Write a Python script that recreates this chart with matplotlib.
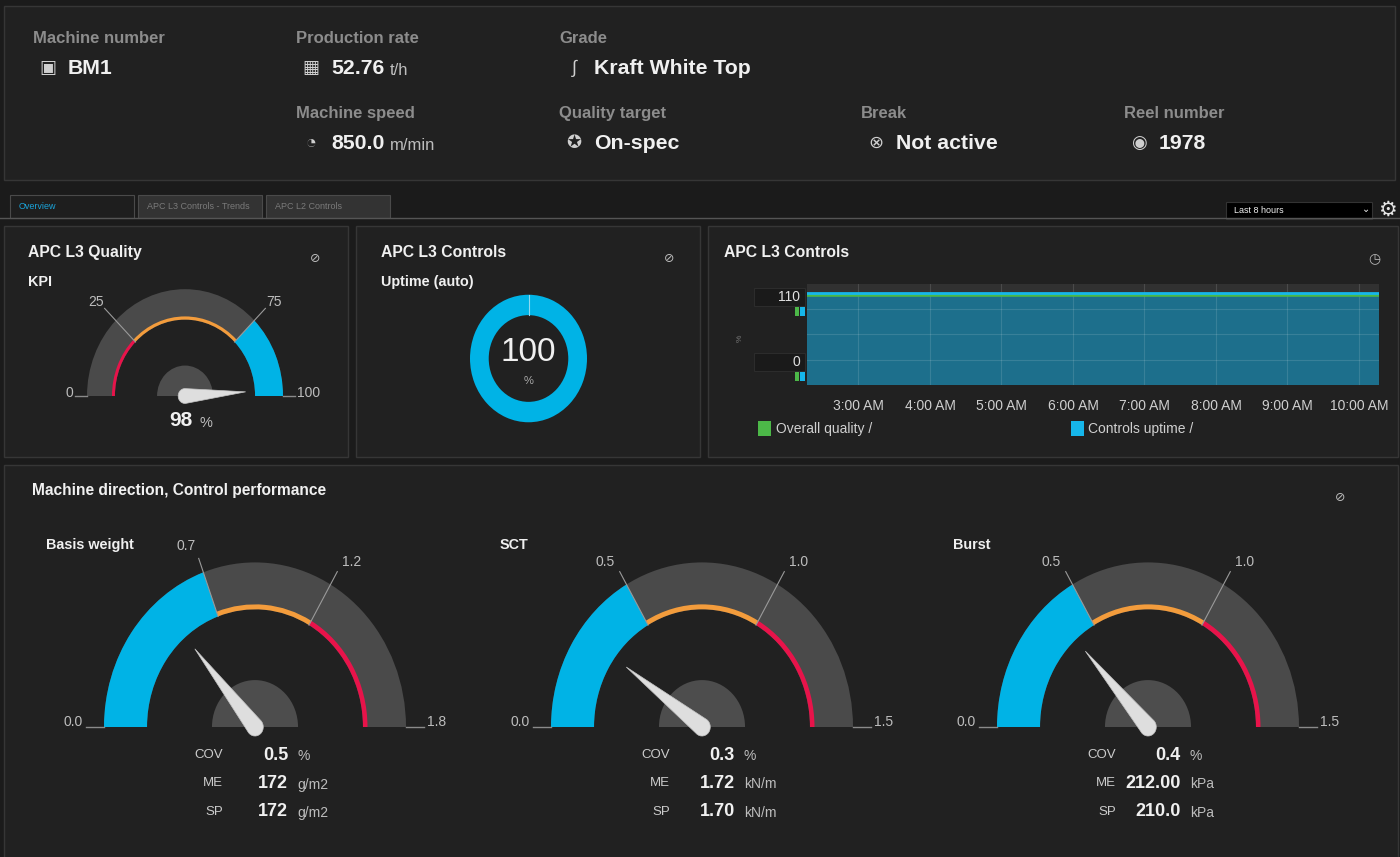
import matplotlib
matplotlib.use('Agg')
import matplotlib.pyplot as plt
from matplotlib.patches import Rectangle, Wedge, Polygon
import numpy as np

plt.rcParams['font.family'] = ['Liberation Sans', 'DejaVu Sans']

W, H = 1400, 857
SQUASH = 1.09   # the screenshot is a little taller than wide

BG = '#1b1b1b'
PANEL = '#212121'
EDGE = '#363636'
BAND = '#4a4a4a'
BLUE = '#00b3e6'
ORANGE = '#f39c3c'
RED = '#e8134a'
GREEN = '#4cb848'
LABEL = '#8c8c8c'
WHITE = '#f0f0f0'

# header fields
hdr_labels = ['Machine number', 'Production rate', 'Grade', 'Machine speed',
              'Quality target', 'Break', 'Reel number']
hdr_values = ['BM1', '52.76', 'Kraft White Top', '850.0', 'On-spec', 'Not active', '1978']
hdr_units = ['', 't/h', '', 'm/min', '', '', '']
hdr_icons = ['▣', '▦', '∫', '◔', '✪', '⊗', '◉']
hdr_x = [33, 296, 559, 296, 559, 861, 1124]
hdr_row = [0, 0, 0, 1, 1, 1, 1]

tabs = ['Overview', 'APC L3 Controls - Trends', 'APC L2 Controls']
time_window = 'Last 8 hours'

# KPI gauge
kpi_value = 98
kpi_min, kpi_max = 0, 100
kpi_limits = [25, 75]

# uptime donut
uptime_value = 100

# trend
trend_hours = [2.28, 3, 4, 5, 6, 7, 8, 9, 10, 10.28]
overall_quality = [98, 98, 98, 98, 98, 98, 98, 98, 98, 98]
controls_uptime = [100, 100, 100, 100, 100, 100, 100, 100, 100, 100]
hour_ticks = [3, 4, 5, 6, 7, 8, 9, 10]
hour_labels = ['3:00 AM', '4:00 AM', '5:00 AM', '6:00 AM', '7:00 AM',
               '8:00 AM', '9:00 AM', '10:00 AM']
trend_ymin, trend_ymax = 0, 110

# machine direction gauges
md_names = ['Basis weight', 'SCT', 'Burst']
md_max = [1.8, 1.5, 1.5]
md_low = [0.7, 0.5, 0.5]
md_high = [1.2, 1.0, 1.0]
md_cov = [0.5, 0.3, 0.4]
md_me = ['172', '1.72', '212.00']
md_sp = ['172', '1.70', '210.0']
md_units = ['g/m2', 'kN/m', 'kPa']

fig = plt.figure(figsize=(14, 8.57), dpi=100, facecolor=BG)
bg = fig.add_axes([0, 0, 1, 1])
bg.set_xlim(0, W)
bg.set_ylim(H, 0)
bg.axis('off')


def txt(x, y, s, size, color=WHITE, weight='normal', ha='left', **kw):
    return bg.text(x, y, s, fontsize=size, color=color, fontweight=weight,
                   ha=ha, va='center', **kw)


def unit_after(t, s, size, color='#bdbdbd', gap=4):
    bg.annotate(s, xy=(1, 0), xycoords=t, xytext=(gap, 0), textcoords='offset points',
                fontsize=size, color=color, ha='left', va='bottom')


def panel(x0, y0, x1, y1):
    bg.add_patch(Rectangle((x0, y0), x1 - x0, y1 - y0, facecolor=PANEL,
                           edgecolor=EDGE, lw=1))


def inset(cx, cy, r, x0, x1, y0, y1):
    left, right = cx + x0 * r, cx + x1 * r
    top, bottom = cy - y1 * r * SQUASH, cy - y0 * r * SQUASH
    ax = fig.add_axes([left / W, 1 - bottom / H, (right - left) / W, (bottom - top) / H])
    ax.set_xlim(x0, x1)
    ax.set_ylim(y0, y1)
    ax.axis('off')
    return ax


def needle(ax, ang, length, half):
    a = np.radians(ang)
    cap = np.linspace(a + np.pi / 2, a + 3 * np.pi / 2, 14)
    pts = [(length * np.cos(a), length * np.sin(a))] + list(zip(half * np.cos(cap), half * np.sin(cap)))
    ax.add_patch(Polygon(pts, closed=True, facecolor='#dedede', edgecolor='#c4c4c4',
                         lw=0.5, zorder=6))


def gauge(cx, cy, r, vmin, vmax, value, zones, ticks, fmt, lab_r, lab_shift, half):
    ax = inset(cx, cy, r, -1.45, 1.45, -0.3, 1.4)
    rin = 0.715
    ang = lambda v: 180 - 180 * (v - vmin) / (vmax - vmin)
    ax.add_patch(Wedge((0, 0), 1, 0, 180, width=1 - rin, color=BAND, lw=0))
    for lo, hi, col, full in zones:
        if full:
            ax.add_patch(Wedge((0, 0), 1, ang(hi), ang(lo), width=1 - rin, color=col, lw=0))
        else:
            ax.add_patch(Wedge((0, 0), rin + 0.03, ang(hi), ang(lo), width=0.03, color=col, lw=0))
    for t in ticks:
        d = ang(t)
        a = np.radians(d)
        ax.plot([rin * np.cos(a), (lab_r - 0.1) * np.cos(a)],
                [rin * np.sin(a), (lab_r - 0.1) * np.sin(a)], color='#9a9a9a', lw=0.8)
        b = np.radians(d + lab_shift if d > 90 else d - lab_shift)
        ax.text(lab_r * np.cos(b), lab_r * np.sin(b), fmt.format(t), ha='center',
                va='center', fontsize=10, color='#bdbdbd')
    ax.plot([-1.12, -1.0], [0, 0], color='#8a8a8a', lw=1)
    ax.plot([1.0, 1.12], [0, 0], color='#8a8a8a', lw=1)
    ax.text(-1.14, 0.03, fmt.format(vmin), ha='right', va='center', fontsize=10, color='#bdbdbd')
    ax.text(1.14, 0.03, fmt.format(vmax), ha='left', va='center', fontsize=10, color='#bdbdbd')
    ax.add_patch(Wedge((0, 0), 0.285, 0, 180, color='#4d4d4d', lw=0))
    needle(ax, ang(value), 0.62, half)
    return ax


# ---- header ----
panel(4, 6, 1395, 180)
for lab, val, unit, icon, x, row in zip(hdr_labels, hdr_values, hdr_units, hdr_icons, hdr_x, hdr_row):
    y = 38 + 75 * row
    txt(x, y, lab, 12, LABEL, 'bold')
    txt(x + 15, y + 30, icon, 13, '#cfcfcf', ha='center')
    t = txt(x + 35, y + 30, val, 15.3, WHITE, 'bold')
    if unit:
        unit_after(t, unit, 12)

# ---- tabs ----
bg.plot([0, W], [217.5, 217.5], color='#555555', lw=1)
for i, name in enumerate(tabs):
    x0 = 10 + 128 * i
    active = i == 0
    bg.add_patch(Rectangle((x0, 195), 124, 23, facecolor='#1e1e1e' if active else '#333333',
                           edgecolor='#4a4a4a', lw=0.8))
    txt(x0 + 9, 206, name, 6.5, '#1aa3d9' if active else '#7a7a7a')
bg.add_patch(Rectangle((1226, 202), 146, 17, facecolor='#000000', edgecolor='#333333', lw=0.8))
txt(1234, 210.5, time_window, 6.5, WHITE)
txt(1366, 209, '⌄', 7, WHITE, ha='center')
txt(1387, 210, '⚙', 15, '#e6e6e6', ha='center')

# ---- panels ----
panel(4, 226, 348, 457)
panel(356, 226, 700, 457)
panel(708, 226, 1398, 457)
panel(4, 465, 1398, 860)

# KPI gauge
txt(28, 252, 'APC L3 Quality', 11.3, WHITE, 'bold')
txt(28, 282, 'KPI', 10.4, WHITE, 'bold')
txt(315, 259, '⊘', 9, '#bbbbbb', ha='center')
gauge(185, 396, 98, kpi_min, kpi_max, kpi_value,
      [(kpi_min, kpi_limits[0], RED, False), (kpi_limits[0], kpi_limits[1], ORANGE, False),
       (kpi_limits[1], kpi_max, BLUE, True)],
      kpi_limits, '{:d}', 1.26, 0.8, 0.07)
t = txt(193, 420, str(kpi_value), 15, WHITE, 'bold', ha='right')
unit_after(t, '%', 10.5, '#bdbdbd', gap=5)

# uptime donut
txt(381, 252, 'APC L3 Controls', 11.3, WHITE, 'bold')
txt(381, 282, 'Uptime (auto)', 10.4, WHITE, 'bold')
txt(669, 259, '⊘', 9, '#bbbbbb', ha='center')
dax = inset(528.5, 358.5, 58.5, -1.1, 1.1, -1.1, 1.1)
dax.pie([uptime_value], startangle=90, counterclock=False, colors=[BLUE],
        wedgeprops=dict(width=0.32, lw=0))
dax.set_aspect('auto')
dax.set_xlim(-1.1, 1.1)
dax.set_ylim(-1.1, 1.1)
dax.plot([0, 0], [0.68, 1.0], color='#8fd8f0', lw=0.8)
txt(528.5, 352, str(uptime_value), 24, WHITE, ha='center')
txt(528.5, 381, '%', 8, '#aaaaaa', ha='center')

# trend chart
txt(724, 252, 'APC L3 Controls', 11.3, WHITE, 'bold')
txt(1374, 259, '◷', 10, '#bbbbbb', ha='center')
tax = fig.add_axes([807 / W, 1 - 385 / H, 572 / W, 101 / H])
tax.set_facecolor('#313131')
tax.fill_between(trend_hours, controls_uptime, trend_ymin, color='#1d6f8c', lw=0)
tax.plot(trend_hours, overall_quality, color=GREEN, lw=2.6)
tax.plot(trend_hours, controls_uptime, color='#16b6ea', lw=2)
tax.set_xlim(trend_hours[0], trend_hours[-1])
tax.set_ylim(trend_ymin, trend_ymax)
tax.set_xticks(hour_ticks, hour_labels)
tax.set_yticks([27.5, 55, 82.5])
tax.grid(color='white', alpha=0.12, lw=0.8)
tax.tick_params(length=0, labelleft=False, labelsize=10, labelcolor='#cfcfcf', pad=10)
for s in tax.spines.values():
    s.set_visible(False)

for yb, lab in [(288, str(trend_ymax)), (353, str(trend_ymin))]:
    bg.add_patch(Rectangle((754, yb), 51, 18, facecolor='#1a1a1a', edgecolor='#2c2c2c', lw=0.8))
    txt(800, yb + 9, lab, 10, '#e0e0e0', ha='right')
    bg.add_patch(Rectangle((795, yb + 19), 4, 9, facecolor=GREEN, lw=0))
    bg.add_patch(Rectangle((800, yb + 19), 5, 9, facecolor='#16b6ea', lw=0))
txt(740, 338, '%', 6, '#777777', ha='center', rotation=90)

bg.add_patch(Rectangle((758, 421), 13, 15, facecolor=GREEN, lw=0))
txt(776, 429, 'Overall quality /', 10, '#d0d0d0')
bg.add_patch(Rectangle((1071, 421), 13, 15, facecolor='#16b6ea', lw=0))
txt(1088, 429, 'Controls uptime /', 10, '#d0d0d0')

# ---- machine direction gauges ----
txt(32, 490, 'Machine direction, Control performance', 11.2, WHITE, 'bold')
txt(1340, 498, '⊘', 9, '#bbbbbb', ha='center')
md_cx = [255, 702, 1148]
md_title_x = [46, 500, 953]
for i in range(3):
    cx = md_cx[i]
    txt(md_title_x[i], 545, md_names[i], 10.4, WHITE, 'bold')
    gauge(cx, 727, 151, 0.0, md_max[i], md_cov[i],
          [(0.0, md_low[i], BLUE, True), (md_low[i], md_high[i], ORANGE, False),
           (md_high[i], md_max[i], RED, False)],
          [md_low[i], md_high[i]], '{:.1f}', 1.19, 2.6, 0.055)
    rows = [('COV', '{:.1f}'.format(md_cov[i]), '%'), ('ME', md_me[i], md_units[i]),
            ('SP', md_sp[i], md_units[i])]
    for j, (lab, val, unit) in enumerate(rows):
        y = 755 + 28.5 * j
        txt(cx - 32, y, lab, 9.5, '#cccccc', ha='right')
        txt(cx + 33, y, val, 13, WHITE, 'bold', ha='right')
        txt(cx + 42, y + 1, unit, 10, '#bdbdbd')

fig.savefig('out.png', dpi=100, facecolor=BG)
